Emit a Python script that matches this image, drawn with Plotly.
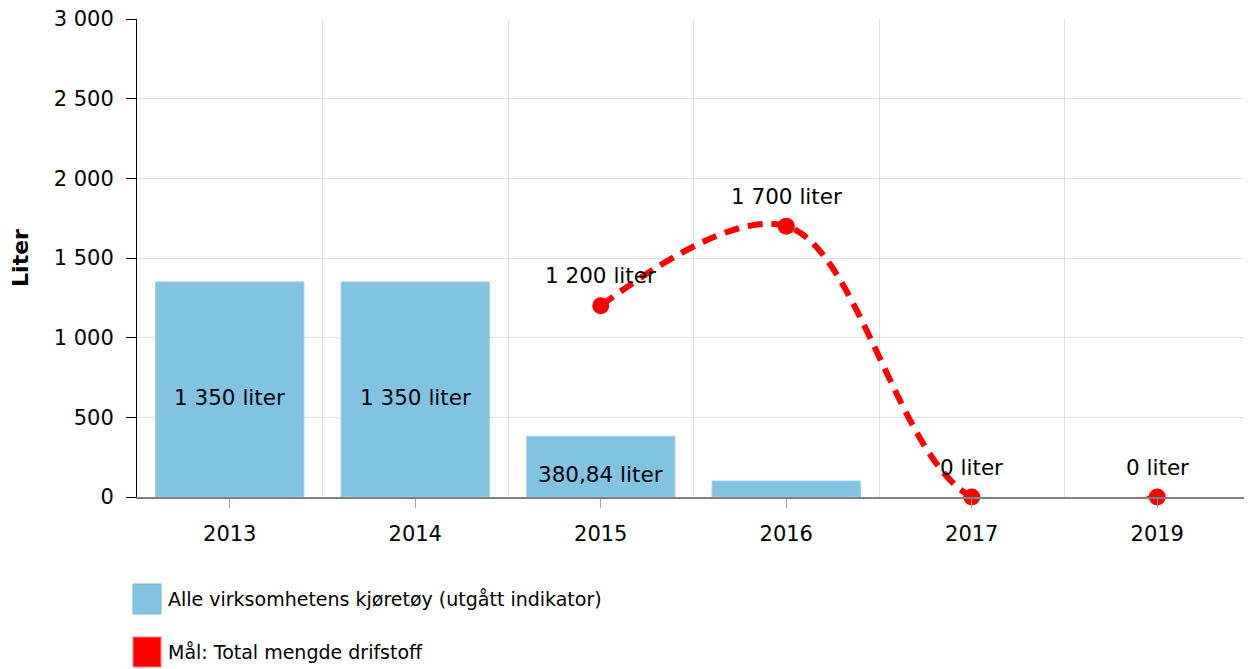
import plotly.graph_objects as go

years = ["2013", "2014", "2015", "2016", "2017", "2019"]
bar_values = [1350, 1350, 380.84, 100, None, None]
bar_labels = ["1 350 liter", "1 350 liter", "380,84 liter", "", "", ""]
goal_years = ["2015", "2016", "2017", "2019"]
goal_values = [1200, 1700, 0, 0]
goal_labels = ["1 200 liter", "1 700 liter", "0 liter", "0 liter"]
y_ticks = [0, 500, 1000, 1500, 2000, 2500, 3000]
bar_name = "Alle virksomhetens kjøretøy (utgått indikator)"
goal_name = "Mål: Total mengde drifstoff"

FONT = "Verdana, DejaVu Sans, sans-serif"
FS = 21
LBL = 21.5
BLUE = "#83c3e2"
RED = "#ff0000"

# page body has an 8px margin; compensate so the plot area lands at x 137-1250, y ~19-497
OFF = 8
TOP = 19
L, T, PW, PH = 137 - OFF, TOP - OFF, 1113, 497 - TOP

fig = go.Figure()
# helper trace for boundary gridlines
fig.add_trace(go.Scatter(x=[-0.5, 5.5], y=[None, None], xaxis="x2", mode="lines",
                         showlegend=False, hoverinfo="skip"))
fig.add_trace(go.Bar(
    x=years, y=bar_values,
    marker=dict(color=BLUE, line=dict(color="#9fd0ea", width=1)),
    width=0.8, name=bar_name, showlegend=False,
    cliponaxis=False, hoverinfo="skip",
))
for bx, bv, bl in zip(years, bar_values, bar_labels):
    if bv is not None and bl:
        fig.add_annotation(x=years.index(bx), y=bv / 2, text=bl, showarrow=False,
                           yshift=-8, xanchor="center", yanchor="middle",
                           font=dict(family=FONT, size=LBL, color="#000000"))
fig.add_trace(go.Scatter(
    x=goal_years, y=goal_values, mode="lines+markers",
    line=dict(color=RED, width=6, dash="15px,9px", shape="spline", smoothing=1.0),
    marker=dict(color=RED, size=17), showlegend=False, cliponaxis=False, name=goal_name,
))
for gx, gy, gl in zip(goal_years, goal_values, goal_labels):
    fig.add_annotation(x=years.index(gx), y=gy, text=gl, showarrow=False, yshift=30,
                       xanchor="center", yanchor="middle",
                       font=dict(family=FONT, size=LBL, color="#000000"))

# manual legend (larger swatches like the reference), positions in screen px
legend_items = [(bar_name, BLUE, "#6fb8dd", 584), (goal_name, RED, "#ff8080", 637)]
for name, fill, edge, ytop in legend_items:
    fig.add_shape(type="rect", xref="paper", yref="paper",
                  x0=(133 - 137) / PW, x1=(161 - 137) / PW,
                  y0=(497 - ytop) / PH, y1=(497 - ytop - 30) / PH,
                  fillcolor=fill, line=dict(color=edge, width=1))
    fig.add_annotation(xref="paper", yref="paper", x=(166 - 137) / PW,
                       y=(497 - ytop - 15) / PH, text=name, showarrow=False,
                       xanchor="left", yanchor="middle",
                       font=dict(family=FONT, size=19, color="#000000"))

fig.update_layout(
    width=1252, height=669,
    margin=dict(l=L, r=1252 - L - PW, t=T, b=669 - T - PH, autoexpand=False),
    paper_bgcolor="white", plot_bgcolor="white",
    font=dict(family=FONT, size=FS, color="#000000"),
    separators=", ",
    showlegend=False,
    xaxis=dict(type="category", categoryorder="array", categoryarray=years,
               showgrid=False, showline=True, linecolor="#808080", linewidth=2,
               ticks="outside", ticklen=9, tickcolor="#a0a0a0",
               tickfont=dict(size=FS), range=[-0.5, 5.5], automargin=False,
               ticklabelstandoff=8),
    xaxis2=dict(overlaying="x", range=[-0.5, 5.5], tickmode="linear", tick0=0.5, dtick=1,
                showgrid=True, gridcolor="#e0e0e0", gridwidth=1, showticklabels=False,
                ticks="", zeroline=False, showline=False, automargin=False),
    yaxis=dict(range=[0, 3000], tickmode="array", tickvals=y_ticks,
               tickformat=",d", showgrid=True, gridcolor="#e0e0e0",
               showline=True, linecolor="#000000", linewidth=1,
               ticks="outside", ticklen=10, tickcolor="#000000", zeroline=False,
               title=dict(text="<b>Liter</b>", font=dict(size=22), standoff=28),
               tickfont=dict(size=FS), automargin=False, ticklabelstandoff=8,
               ticklabeloverflow="allow"),
)

fig.write_html("out.html")
